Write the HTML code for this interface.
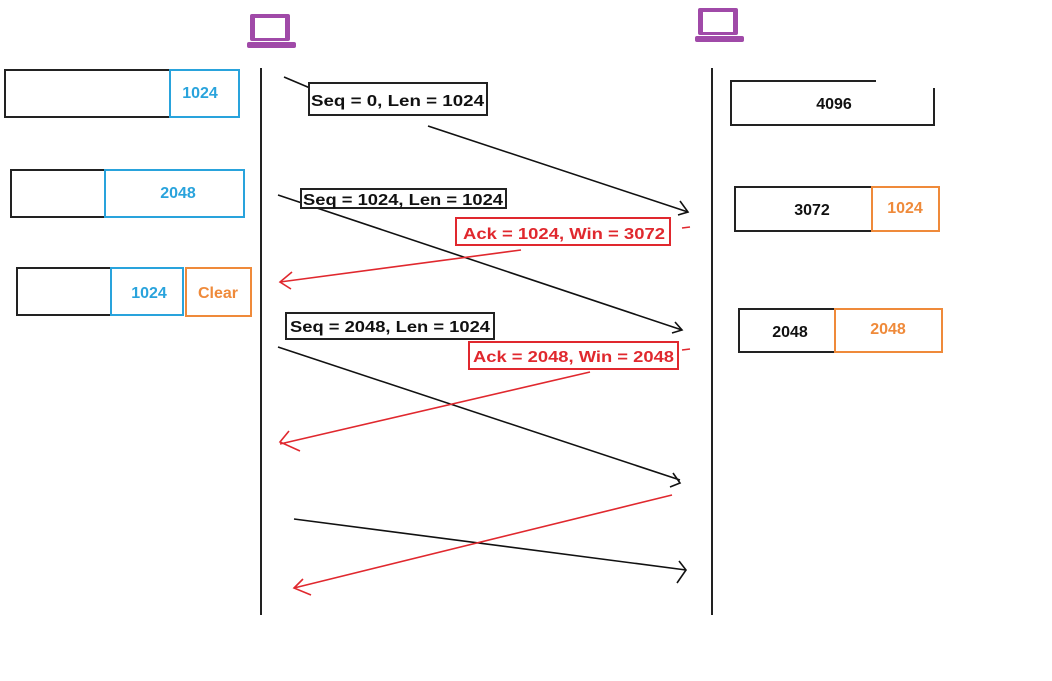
<!DOCTYPE html>
<html><head><meta charset="utf-8"><style>
body{margin:0;background:#fff;width:1052px;height:676px;overflow:hidden}
svg text{font-family:"Liberation Sans",sans-serif;font-weight:bold;font-size:16px}
</style></head><body>
<svg width="1052" height="676" xmlns="http://www.w3.org/2000/svg">
<defs>
<g id="lap"><rect x="3" y="0" width="40" height="27" rx="2" fill="#a04aa8"/><rect x="8" y="4" width="30" height="20" fill="#fff"/><rect x="0" y="28" width="49" height="6" rx="2" fill="#a04aa8"/></g>
</defs>
<use href="#lap" x="247" y="14"/>
<use href="#lap" x="695" y="8"/>
<line x1="261" y1="68" x2="261" y2="615" stroke="#222" stroke-width="2"/>
<line x1="712" y1="68" x2="712" y2="615" stroke="#222" stroke-width="2"/>
<g fill="none" stroke-width="2">
<rect x="5" y="70" width="165" height="47" stroke="#222"/>
<rect x="170" y="70" width="69" height="47" stroke="#29a3dc"/>
<rect x="11" y="170" width="94" height="47" stroke="#222"/>
<rect x="105" y="170" width="139" height="47" stroke="#29a3dc"/>
<rect x="17" y="268" width="94" height="47" stroke="#222"/>
<rect x="111" y="268" width="72" height="47" stroke="#29a3dc"/>
<rect x="186" y="268" width="65" height="48" stroke="#ef8a3a"/>
<path d="M876 81H731V125H934V88" stroke="#222"/>
<rect x="735" y="187" width="137" height="44" stroke="#222"/>
<rect x="872" y="187" width="67" height="44" stroke="#ef8a3a"/>
<rect x="739" y="309" width="96" height="43" stroke="#222"/>
<rect x="835" y="309" width="107" height="43" stroke="#ef8a3a"/>
</g>
<g fill="#29a3dc" text-anchor="middle" style="font-size:17px"><text x="200" y="98">1024</text><text x="178" y="198">2048</text><text x="149" y="298">1024</text></g>
<g fill="#ef8a3a" text-anchor="middle" style="font-size:17px"><text x="218" y="298">Clear</text><text x="905" y="213">1024</text><text x="888" y="334">2048</text></g>
<g fill="#111" text-anchor="middle" style="font-size:17px"><text x="834" y="109">4096</text><text x="812" y="215">3072</text><text x="790" y="337">2048</text></g>
<g stroke="#111" stroke-width="1.6" fill="none">
<line x1="284" y1="77" x2="310" y2="88"/>
<line x1="428" y1="126" x2="688" y2="212"/><path d="M680 201L688 212L678 215"/>
<line x1="278" y1="195" x2="682" y2="330"/><path d="M675 322L682 330L672 333"/>
<line x1="278" y1="347" x2="680" y2="480"/><path d="M673 473L680 483L670 487"/>
<line x1="294" y1="519" x2="686" y2="570"/><path d="M679 561L686 570L677 583"/>
</g>
<g stroke="#e0282e" stroke-width="1.6" fill="none">
<line x1="682" y1="228" x2="690" y2="227"/><line x1="682" y1="350" x2="690" y2="349"/>
<line x1="521" y1="250" x2="280" y2="282"/><path d="M292 272L280 282L291 289"/>
<line x1="590" y1="372" x2="280" y2="444"/><path d="M289 431L280 442L300 451"/>
<line x1="672" y1="495" x2="294" y2="588"/><path d="M303 579L294 588L311 595"/>
</g>
<g fill="#fff" stroke-width="2">
<rect x="309" y="83" width="178" height="32" stroke="#222"/>
<rect x="301" y="189" width="205" height="19" stroke="#222"/>
<rect x="286" y="313" width="208" height="26" stroke="#222"/>
<rect x="456" y="218" width="214" height="27" stroke="#e0282e"/>
<rect x="469" y="342" width="209" height="27" stroke="#e0282e"/>
</g>
<g fill="#111"><text x="311" y="106" textLength="173" lengthAdjust="spacingAndGlyphs">Seq = 0, Len = 1024</text><text x="303" y="205" textLength="200" lengthAdjust="spacingAndGlyphs">Seq = 1024, Len = 1024</text><text x="290" y="332" textLength="200" lengthAdjust="spacingAndGlyphs">Seq = 2048, Len = 1024</text></g>
<g fill="#e0282e"><text x="463" y="239" textLength="202" lengthAdjust="spacingAndGlyphs">Ack = 1024, Win = 3072</text><text x="473" y="362" textLength="201" lengthAdjust="spacingAndGlyphs">Ack = 2048, Win = 2048</text></g>
</svg>
</body></html>
